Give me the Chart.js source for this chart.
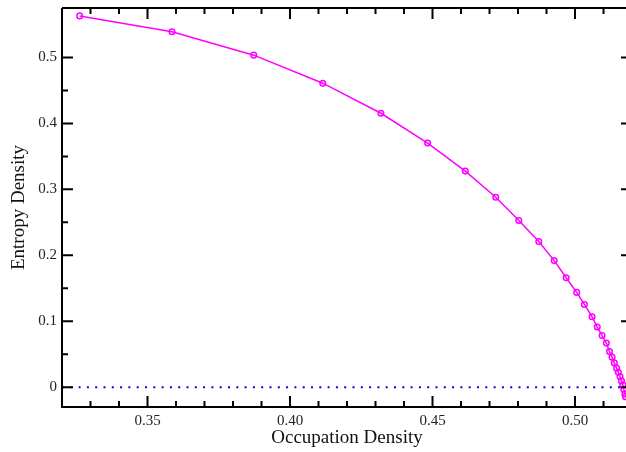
<!DOCTYPE html>
<html>
<head>
<meta charset="utf-8">
<script src="https://cdn.jsdelivr.net/npm/chart.js@4/dist/chart.umd.min.js"></script>
<style>
  body { margin: 0; background: #fff; }
  #wrap { width: 626px; height: 452px; overflow: hidden; position: relative; }
</style>
</head>
<body>
<div id="wrap"><canvas id="chart" width="640" height="452"></canvas></div>
<script>
// данные кривой
var occupation = [0.3262, 0.3586, 0.3873, 0.4115, 0.4319, 0.4483, 0.4615, 0.4722, 0.4803, 0.4873,
                  0.4927, 0.4969, 0.5006, 0.5033, 0.5060, 0.5078, 0.5095, 0.5110, 0.5121, 0.5130,
                  0.5138, 0.5146, 0.5152, 0.5158, 0.5163, 0.5168, 0.5171, 0.5175, 0.5177];
var entropy = [0.563, 0.539, 0.5035, 0.461, 0.4154, 0.3702, 0.3277, 0.2881, 0.2527, 0.2208,
               0.192, 0.166, 0.1438, 0.1255, 0.1068, 0.0912, 0.0784, 0.0669, 0.0541, 0.0456,
               0.0369, 0.0289, 0.0228, 0.0161, 0.0096, 0.0035, -0.003, -0.0102, -0.0143];
// нулевая линия
var zeroX = [0.32, 0.52];
var zeroY = [0, 0];
// подписи делений
var xTickLabels = ['0.35', '0.40', '0.45', '0.50'];
var yTickLabels = ['0', '0.1', '0.2', '0.3', '0.4', '0.5'];

function pairs(xs, ys) {
    return xs.map(function(v, i) { return { x: v, y: ys[i] }; });
}

function labelFor(list, value) {
    for (var i = 0; i < list.length; i++) {
        if (Math.abs(parseFloat(list[i]) - value) < 1e-9) return list[i];
    }
    return '';
}

// рамка и внутренние засечки
var frameTicks = {
    id: 'frameTicks',
    afterDraw: function(chart) {
        var ctx = chart.ctx, a = chart.chartArea;
        var x = chart.scales.x, y = chart.scales.y;
        ctx.save();
        ctx.strokeStyle = '#000';
        ctx.lineWidth = 2;
        ctx.beginPath();
        ctx.moveTo(a.left, a.top); ctx.lineTo(a.right, a.top);
        ctx.moveTo(a.left, a.top); ctx.lineTo(a.left, a.bottom); ctx.lineTo(a.right, a.bottom);
        ctx.moveTo(a.right, a.top); ctx.lineTo(a.right, a.bottom);
        ctx.stroke();

        ctx.beginPath();
        x.ticks.forEach(function(t) {
            var n = t.value * 100;
            if (Math.abs(n - Math.round(n)) > 1e-6) return;
            var len = Math.round(n) % 5 === 0 ? 11 : 6;
            var px = x.getPixelForValue(t.value);
            ctx.moveTo(px, a.bottom); ctx.lineTo(px, a.bottom - len);
            ctx.moveTo(px, a.top); ctx.lineTo(px, a.top + len);
        });
        y.ticks.forEach(function(t) {
            var n = t.value * 20;
            if (Math.abs(n - Math.round(n)) > 1e-6) return;
            var len = Math.round(n) % 2 === 0 ? 11 : 6;
            var py = y.getPixelForValue(t.value);
            ctx.moveTo(a.left, py); ctx.lineTo(a.left + len, py);
            ctx.moveTo(a.right, py); ctx.lineTo(a.right - len, py);
        });
        ctx.stroke();
        ctx.restore();
    }
};

var serif = 'Liberation Serif, Times New Roman, serif';

new Chart(document.getElementById('chart'), {
    type: 'scatter',
    data: {
        datasets: [
            {
                data: pairs(zeroX, zeroY),
                showLine: true,
                borderColor: '#0000ff',
                borderWidth: 2,
                borderDash: [2, 6.3],
                pointRadius: 0
            },
            {
                data: pairs(occupation, entropy),
                showLine: true,
                borderColor: '#ff00ff',
                borderWidth: 1.5,
                pointRadius: 2.8,
                pointBorderWidth: 1.5,
                pointBorderColor: '#ff00ff',
                pointBackgroundColor: 'rgba(0,0,0,0)'
            }
        ]
    },
    options: {
        responsive: false,
        devicePixelRatio: 1,
        animation: false,
        layout: { padding: { top: 8, right: 8, left: 0, bottom: 0 } },
        plugins: { legend: { display: false }, tooltip: { enabled: false } },
        scales: {
            x: {
                type: 'linear',
                min: 0.32,
                max: 0.52,
                grid: { display: false, drawTicks: false },
                border: { display: false },
                afterFit: function(s) { s.height = 45; s.paddingLeft = 0; s.paddingRight = 0; },
                ticks: {
                    stepSize: 0.01,
                    autoSkip: false,
                    maxRotation: 0,
                    padding: 5,
                    color: '#222',
                    font: { family: serif, size: 15 },
                    callback: function(v) { return labelFor(xTickLabels, v); }
                },
                title: {
                    display: true,
                    text: 'Occupation Density',
                    color: '#111',
                    font: { family: serif, size: 19 },
                    padding: { top: 0, bottom: 3 }
                }
            },
            y: {
                type: 'linear',
                min: -0.03,
                max: 0.575,
                grid: { display: false, drawTicks: false },
                border: { display: false },
                afterFit: function(s) { s.width = 62; s.paddingTop = 0; s.paddingBottom = 0; },
                ticks: {
                    stepSize: 0.05,
                    autoSkip: false,
                    padding: 5,
                    color: '#222',
                    font: { family: serif, size: 15 },
                    callback: function(v) { return labelFor(yTickLabels, v); }
                },
                title: {
                    display: true,
                    text: 'Entropy Density',
                    color: '#111',
                    font: { family: serif, size: 19 },
                    padding: { top: 8, bottom: 0 }
                }
            }
        }
    },
    plugins: [frameTicks]
});
</script>
</body>
</html>
